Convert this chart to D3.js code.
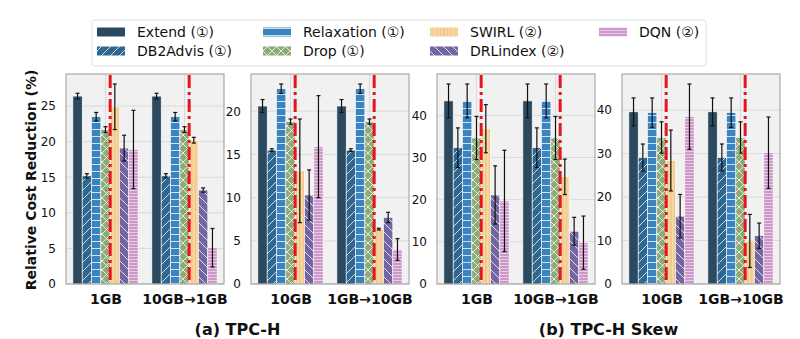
<!DOCTYPE html>
<html>
<head>
<meta charset="utf-8">
<script src="https://cdn.jsdelivr.net/npm/d3@7"></script>
<style>
  body { margin: 0; background: #fff; }
  svg { font-family: "DejaVu Sans", sans-serif; }
</style>
</head>
<body>
<div id="chart"></div>
<script>
// methods, in bar order
var methods = ["Extend (①)", "DB2Advis (①)", "Relaxation (①)", "Drop (①)", "SWIRL (②)", "DRLindex (②)", "DQN (②)"];
var colors = ["#2b4a60", "#2f6790", "#3b84bf", "#8eaa77", "#f2c98b", "#7467a1", "#cc98c8"];

// x groups per panel
var groupsA1 = ["1GB", "10GB→1GB"];
var groupsA2 = ["10GB", "1GB→10GB"];
var groupsB1 = ["1GB", "10GB→1GB"];
var groupsB2 = ["10GB", "1GB→10GB"];

// values (per group, per method) and errors
var tpchSmall = [[26.4, 15.2, 23.5, 21.7, 24.9, 19.1, 18.9], [26.4, 15.2, 23.5, 21.7, 20.2, 13.2, 5.1]];
var tpchSmallErr = [[0.4, 0.3, 0.6, 0.4, 3.2, 1.8, 5.5], [0.4, 0.3, 0.6, 0.4, 0.4, 0.3, 2.7]];
var tpchLarge = [[20.6, 15.5, 22.6, 18.8, 13.1, 10.3, 15.9], [20.6, 15.5, 22.6, 18.8, 6.35, 7.7, 4.0]];
var tpchLargeErr = [[0.75, 0.15, 0.55, 0.3, 6.0, 2.9, 5.9], [0.75, 0.15, 0.55, 0.3, 0.1, 0.6, 1.25]];
var skewSmall = [[43.4, 32.3, 43.4, 34.6, 36.8, 21.1, 19.7], [43.4, 32.3, 43.4, 34.6, 25.4, 12.5, 9.8]];
var skewSmallErr = [[4.0, 4.7, 4.0, 5.1, 5.7, 6.9, 12.0], [4.0, 4.7, 4.0, 5.1, 4.2, 3.3, 6.3]];
var skewLarge = [[39.6, 29.1, 39.4, 33.7, 28.4, 15.6, 38.5], [39.6, 29.1, 39.4, 33.7, 9.9, 11.1, 30.2]];
var skewLargeErr = [[3.2, 3.1, 3.4, 3.6, 7.0, 5.0, 7.5], [3.2, 3.1, 3.4, 3.6, 6.1, 2.9, 8.2]];

// y tick labels per panel
var ticksA1 = [0, 5, 10, 15, 20, 25];
var ticksA2 = [0, 5, 10, 15, 20];
var ticksB1 = [0, 10, 20, 30, 40];
var ticksB2 = [0, 10, 20, 30, 40];

var subtitles = ["(a) TPC-H", "(b) TPC-H Skew"];

var width = 800, height = 339;
var svg = d3.select("#chart").append("svg")
  .attr("width", width).attr("height", height);

// hatch patterns
var defs = svg.append("defs");
function pat(id, size, bg, draw) {
  var p = defs.append("pattern").attr("id", id)
    .attr("patternUnits", "userSpaceOnUse")
    .attr("width", size).attr("height", size);
  p.append("rect").attr("width", size).attr("height", size).attr("fill", bg);
  draw(p);
}
pat("h0", 8, colors[0], function(p) {});
pat("h1", 9, colors[1], function(p) {
  p.append("path").attr("d", "M0,9 L9,0 M-2,2 L2,-2 M7,11 L11,7")
    .attr("stroke", "#fff").attr("stroke-opacity", 0.85).attr("stroke-width", 0.9);
});
pat("h2", 7, colors[2], function(p) {
  p.append("path").attr("d", "M0,3.5 L7,3.5")
    .attr("stroke", "#fff").attr("stroke-opacity", 0.85).attr("stroke-width", 0.9);
});
pat("h3", 9, colors[3], function(p) {
  p.append("path").attr("d", "M0,9 L9,0 M0,0 L9,9")
    .attr("stroke", "#fff").attr("stroke-opacity", 0.85).attr("stroke-width", 0.9);
});
pat("h4", 3.5, colors[4], function(p) {
  p.append("path").attr("d", "M1.75,0 L1.75,3.5")
    .attr("stroke", "#fbe3bd").attr("stroke-width", 1);
});
pat("h5", 9, colors[5], function(p) {
  p.append("path").attr("d", "M0,0 L9,9 M-2,7 L2,11 M7,-2 L11,2")
    .attr("stroke", "#fff").attr("stroke-opacity", 0.85).attr("stroke-width", 0.9);
});
pat("h6", 3, colors[6], function(p) {
  p.append("path").attr("d", "M0,1.5 L3,1.5")
    .attr("stroke", "#ecd0e8").attr("stroke-width", 0.9);
});

var panels = [
  {left: 66, groups: groupsA1, vals: tpchSmall, errs: tpchSmallErr, ticks: ticksA1},
  {left: 251, groups: groupsA2, vals: tpchLarge, errs: tpchLargeErr, ticks: ticksA2},
  {left: 437, groups: groupsB1, vals: skewSmall, errs: skewSmallErr, ticks: ticksB1},
  {left: 622, groups: groupsB2, vals: skewLarge, errs: skewLargeErr, ticks: ticksB2}
];
var pw = 158, plotTop = 74, plotBottom = 284;
var bw = 0.118;

panels.forEach(function(pn) {
  var g = svg.append("g").attr("transform", "translate(" + pn.left + ",0)");
  var x = d3.scaleLinear().domain([-0.5, 1.5]).range([0, pw]);
  var ymax = d3.max(pn.vals, function(row, gi) {
    return d3.max(row, function(v, mi) { return v + pn.errs[gi][mi]; });
  }) * 1.05;
  var y = d3.scaleLinear().domain([0, ymax]).range([plotBottom, plotTop]);

  g.append("rect").attr("x", 0).attr("y", plotTop).attr("width", pw).attr("height", plotBottom - plotTop)
    .attr("fill", "#f1f1f1");
  // grid
  g.selectAll(".hg").data(pn.ticks).enter().append("line")
    .attr("x1", 0).attr("x2", pw)
    .attr("y1", function(d) { return y(d); }).attr("y2", function(d) { return y(d); })
    .attr("stroke", "#dadada").attr("stroke-width", 1);
  g.selectAll(".vg").data([0, 1]).enter().append("line")
    .attr("x1", function(d) { return x(d); }).attr("x2", function(d) { return x(d); })
    .attr("y1", plotTop).attr("y2", plotBottom)
    .attr("stroke", "#dadada").attr("stroke-width", 1);

  // y axis labels
  var yAxis = d3.axisLeft(y).tickValues(pn.ticks).tickSize(0).tickPadding(10);
  var ya = g.append("g").call(yAxis);
  ya.select(".domain").remove();
  ya.selectAll("text").attr("font-size", 12).attr("fill", "#111")
    .attr("font-family", "DejaVu Sans");

  // x axis labels
  var xAxis = d3.axisBottom(x).tickValues([0, 1]).tickSize(0).tickPadding(10)
    .tickFormat(function(d) { return pn.groups[d]; });
  var xa = g.append("g").attr("transform", "translate(0," + plotBottom + ")").call(xAxis);
  xa.select(".domain").remove();
  xa.selectAll("text").attr("font-size", 14).attr("font-weight", "bold").attr("fill", "#111")
    .attr("font-family", "DejaVu Sans");

  pn.vals.forEach(function(row, gi) {
    var bars = row.map(function(v, mi) {
      return {g: gi, m: mi, v: v, e: pn.errs[gi][mi]};
    });
    var bg = g.append("g");
    bg.selectAll("rect").data(bars).enter().append("rect")
      .attr("x", function(d) { return x(d.g + (d.m - 3.5) * bw); })
      .attr("width", x(bw) - x(0))
      .attr("y", function(d) { return y(d.v); })
      .attr("height", function(d) { return y(0) - y(d.v); })
      .attr("fill", function(d) { return "url(#h" + d.m + ")"; })
      .attr("stroke", "#fff").attr("stroke-width", 0.6);
    // red dash-dot separator
    bg.append("line")
      .attr("x1", x(gi + 0.5 * bw)).attr("x2", x(gi + 0.5 * bw))
      .attr("y1", plotTop + 1).attr("y2", plotBottom)
      .attr("stroke", "#e8141c").attr("stroke-width", 3)
      .attr("stroke-dasharray", "13,4,3,4");
    // error bars
    var eb = bg.selectAll(".eb").data(bars).enter().append("g");
    eb.append("line")
      .attr("x1", function(d) { return x(d.g + (d.m - 3) * bw); })
      .attr("x2", function(d) { return x(d.g + (d.m - 3) * bw); })
      .attr("y1", function(d) { return y(d.v - d.e); })
      .attr("y2", function(d) { return y(d.v + d.e); })
      .attr("stroke", "#111").attr("stroke-width", 1.2);
    [-1, 1].forEach(function(s) {
      eb.append("line")
        .attr("x1", function(d) { return x(d.g + (d.m - 3) * bw) - 2; })
        .attr("x2", function(d) { return x(d.g + (d.m - 3) * bw) + 2; })
        .attr("y1", function(d) { return y(d.v + s * d.e); })
        .attr("y2", function(d) { return y(d.v + s * d.e); })
        .attr("stroke", "#111").attr("stroke-width", 1.2);
    });
  });

  g.append("rect").attr("x", 0).attr("y", plotTop).attr("width", pw).attr("height", plotBottom - plotTop)
    .attr("fill", "none").attr("stroke", "#999").attr("stroke-width", 1);
});

// y label
svg.append("text")
  .attr("transform", "translate(32,180) rotate(-90)")
  .attr("text-anchor", "middle").attr("dominant-baseline", "middle")
  .attr("font-size", 14).attr("font-weight", "bold").attr("fill", "#111")
  .text("Relative Cost Reduction (%)");

// subtitles
svg.selectAll(".sub").data(subtitles).enter().append("text")
  .attr("x", function(d, i) { return i === 0 ? (66 + 251 + pw) / 2 : (437 + 622 + pw) / 2; })
  .attr("y", 335)
  .attr("text-anchor", "middle")
  .attr("font-size", 16).attr("font-weight", "bold").attr("fill", "#111")
  .text(function(d) { return d; });

// legend
var lg = svg.append("g");
lg.append("rect").attr("x", 92).attr("y", 20).attr("width", 614).attr("height", 46)
  .attr("rx", 3).attr("fill", "#fff").attr("stroke", "#dddddd").attr("stroke-width", 1);
var colX = [97, 263, 430, 599];
var item = lg.selectAll(".li").data(methods).enter().append("g")
  .attr("transform", function(d, i) {
    return "translate(" + colX[Math.floor(i / 2)] + "," + (i % 2 === 0 ? 32 : 51) + ")";
  });
item.append("rect").attr("x", 0).attr("y", -4.5).attr("width", 28).attr("height", 9)
  .attr("fill", function(d, i) { return "url(#h" + i + ")"; });
item.append("text").attr("x", 40).attr("y", 0).attr("dominant-baseline", "central")
  .attr("font-size", 14).attr("fill", "#111")
  .text(function(d) { return d; });
</script>
</body>
</html>
